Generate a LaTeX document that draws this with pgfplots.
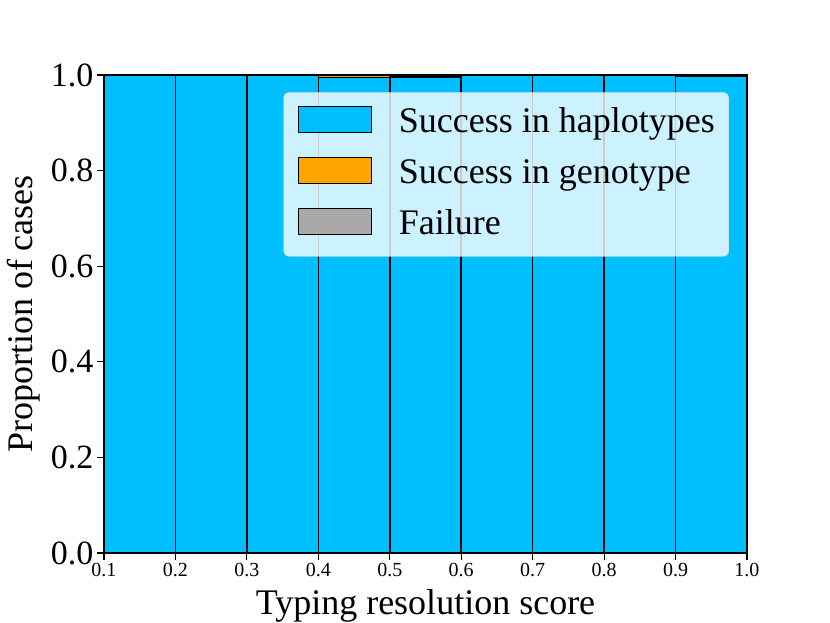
\documentclass[border=0pt]{standalone}
\usepackage{fontspec}
\setmainfont{Liberation Serif}
\usepackage{pgfplots}
\pgfplotsset{compat=1.18}
\definecolor{hap}{HTML}{00BFFF}
\definecolor{geno}{HTML}{FFA500}
\definecolor{fail}{HTML}{A9A9A9}
\pgfplotstableread{
x     hap    geno   fail
0.15  1.000  0.000  0.000
0.25  1.000  0.000  0.000
0.35  1.000  0.000  0.000
0.45  0.995  0.005  0.000
0.55  0.996  0.000  0.004
0.65  1.000  0.000  0.000
0.75  1.000  0.000  0.000
0.85  1.000  0.000  0.000
0.95  0.998  0.000  0.002
}\bins
\begin{document}
\begin{tikzpicture}
\begin{axis}[
  at={(0,0)}, anchor=south west,
  scale only axis, width=643pt, height=478pt,
  ybar stacked, bar width=0.1,
  xmin=0.1, xmax=1.0, ymin=0, ymax=1,
  xtick={0.1,0.2,...,1.0}, ytick={0,0.2,...,1.0},
  tick pos=left, tick align=outside, major tick length=7pt,
  every tick/.style={black, line width=1.2pt},
  axis line style={black, line width=1.4pt},
  /pgf/number format/assume math mode=true,
  xticklabel style={font=\fontsize{20}{24}\selectfont, /pgf/number format/fixed, /pgf/number format/fixed zerofill, /pgf/number format/precision=1},
  yticklabel style={font=\fontsize{34}{40}\selectfont, /pgf/number format/fixed, /pgf/number format/fixed zerofill, /pgf/number format/precision=1},
  xlabel={Typing resolution score},
  ylabel={Proportion of cases},
  label style={font=\fontsize{36}{42}\selectfont},
  xlabel style={yshift=-6pt},
  ylabel style={yshift=4pt},
  legend style={at={(0.972,0.964)}, anchor=north east,
    font=\fontsize{36}{42}\selectfont,
    fill=white, fill opacity=0.8, draw=black!20, draw opacity=0.8, text opacity=1,
    rounded corners=5pt, inner xsep=14pt, inner ysep=13pt,
    row sep=15pt, column sep=27pt,
    nodes={inner sep=0pt, text height=27pt, text depth=9pt},
    cells={anchor=west}},
  legend image code/.code={\draw[#1, fill opacity=1, draw opacity=1, line width=1.2pt, rounded corners=0pt] (0pt,-9pt) rectangle (73pt,17pt);},
]
\addplot[fill=hap, draw=black, line width=1.5pt] table[x=x, y=hap] {\bins};
\addlegendentry{Success in haplotypes}
\addplot[fill=geno, draw=black, line width=1.5pt] table[x=x, y=geno] {\bins};
\addlegendentry{Success in genotype}
\addplot[fill=fail, draw=black, line width=1.5pt] table[x=x, y=fail] {\bins};
\addlegendentry{Failure}
\end{axis}
\pgfresetboundingbox
\path[use as bounding box] (-104pt,-70pt) rectangle ++(830pt,623pt);
\end{tikzpicture}
\end{document}
